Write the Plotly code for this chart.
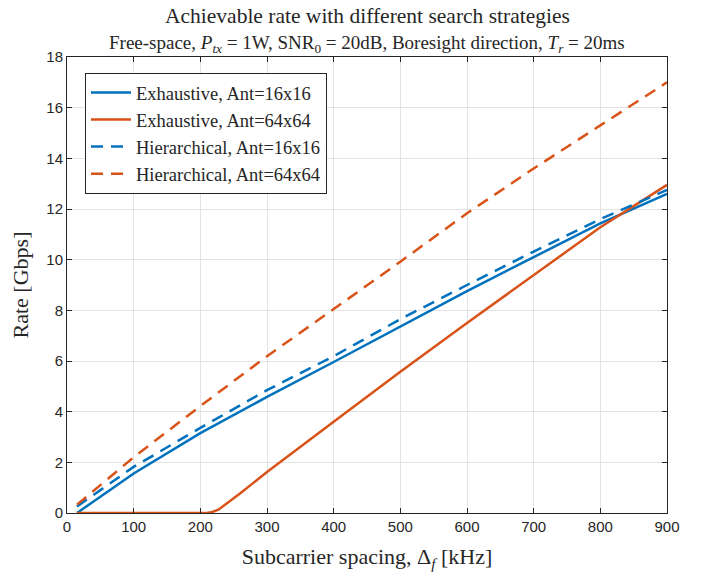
import plotly.graph_objects as go

# Data
x_exh16 = [15, 100, 200, 300, 400, 500, 600, 700, 800, 900]
y_exh16 = [0.0, 1.56, 3.15, 4.58, 5.96, 7.37, 8.76, 10.1, 11.43, 12.6]

x_exh64 = [15, 100, 200, 210, 218, 227, 260, 300, 400, 500, 600, 700, 800, 900]
y_exh64 = [0.0, 0.0, 0.0, 0.0, 0.04, 0.13, 0.78, 1.62, 3.6, 5.58, 7.5, 9.4, 11.28, 12.95]

x_hier16 = [15, 100, 200, 300, 400, 500, 600, 700, 800, 900]
y_hier16 = [0.26, 1.82, 3.36, 4.85, 6.19, 7.65, 9.0, 10.32, 11.6, 12.75]

x_hier64 = [15, 100, 200, 300, 400, 500, 600, 700, 800, 900]
y_hier64 = [0.33, 2.2, 4.22, 6.19, 8.05, 9.92, 11.83, 13.6, 15.3, 17.0]

names = ["Exhaustive, Ant=16x16", "Exhaustive, Ant=64x64",
         "Hierarchical, Ant=16x16", "Hierarchical, Ant=64x64"]

x_ticks = [0, 100, 200, 300, 400, 500, 600, 700, 800, 900]
y_ticks = [0, 2, 4, 6, 8, 10, 12, 14, 16, 18]

title_text = "Achievable rate with different search strategies"
subtitle_text = ("Free-space, <i>P</i><sub><i>tx</i></sub> = 1W, SNR<sub>0</sub> = 20dB, "
                 "Boresight direction, <i>T</i><sub><i>r</i></sub> = 20ms")

BLUE = "#0072BD"
ORANGE = "#D95319"
SERIF = "Liberation Serif, DejaVu Serif, serif"
SANS = "Liberation Sans, Arial, sans-serif"
TXT = "#262626"

fig = go.Figure()
series = [
    (x_exh16, y_exh16, BLUE, "solid"),
    (x_exh64, y_exh64, ORANGE, "solid"),
    (x_hier16, y_hier16, BLUE, "12px,8px"),
    (x_hier64, y_hier64, ORANGE, "12px,8px"),
]
for (xs, ys, c, d), n in zip(series, names):
    fig.add_trace(go.Scatter(x=xs, y=ys, mode="lines", name=n,
                             line=dict(color=c, width=2.5, dash=d)))

axis_common = dict(
    showgrid=True, gridcolor="#e3e3e3", gridwidth=1,
    showline=True, linecolor=TXT, linewidth=1,
    mirror="allticks", ticks="inside", ticklen=5, tickcolor=TXT,
    zeroline=False, tickfont=dict(family=SANS, size=15, color=TXT),
)

fig.update_layout(
    width=694, height=570,
    margin=dict(l=59, r=35, t=49, b=65),
    paper_bgcolor="white", plot_bgcolor="white",
    xaxis=dict(range=[0, 900], tickvals=x_ticks,
               title=dict(text="Subcarrier spacing, Δ<sub><i>f</i></sub> [kHz]",
                          font=dict(family=SERIF, size=22, color=TXT), standoff=14),
               **axis_common),
    yaxis=dict(range=[0, 18], tickvals=y_ticks,
               title=dict(text="Rate [Gbps]",
                          font=dict(family=SERIF, size=22, color=TXT), standoff=12),
               **axis_common),
    legend=dict(x=0.03, y=0.965, xanchor="left", yanchor="top",
                bgcolor="white", bordercolor=TXT, borderwidth=1,
                font=dict(family=SERIF, size=18.5, color=TXT),
                itemwidth=40, tracegroupgap=0),
    showlegend=True,
    annotations=[
        dict(text=title_text, x=0.5, y=1.09, xref="paper", yref="paper",
             xanchor="center", yanchor="middle", showarrow=False,
             font=dict(family=SERIF, size=21.5, color=TXT)),
        dict(text=subtitle_text, x=0.5, y=1.0285, xref="paper", yref="paper",
             xanchor="center", yanchor="middle", showarrow=False,
             font=dict(family=SERIF, size=19, color=TXT)),
    ],
)

fig.write_html("out.html")
